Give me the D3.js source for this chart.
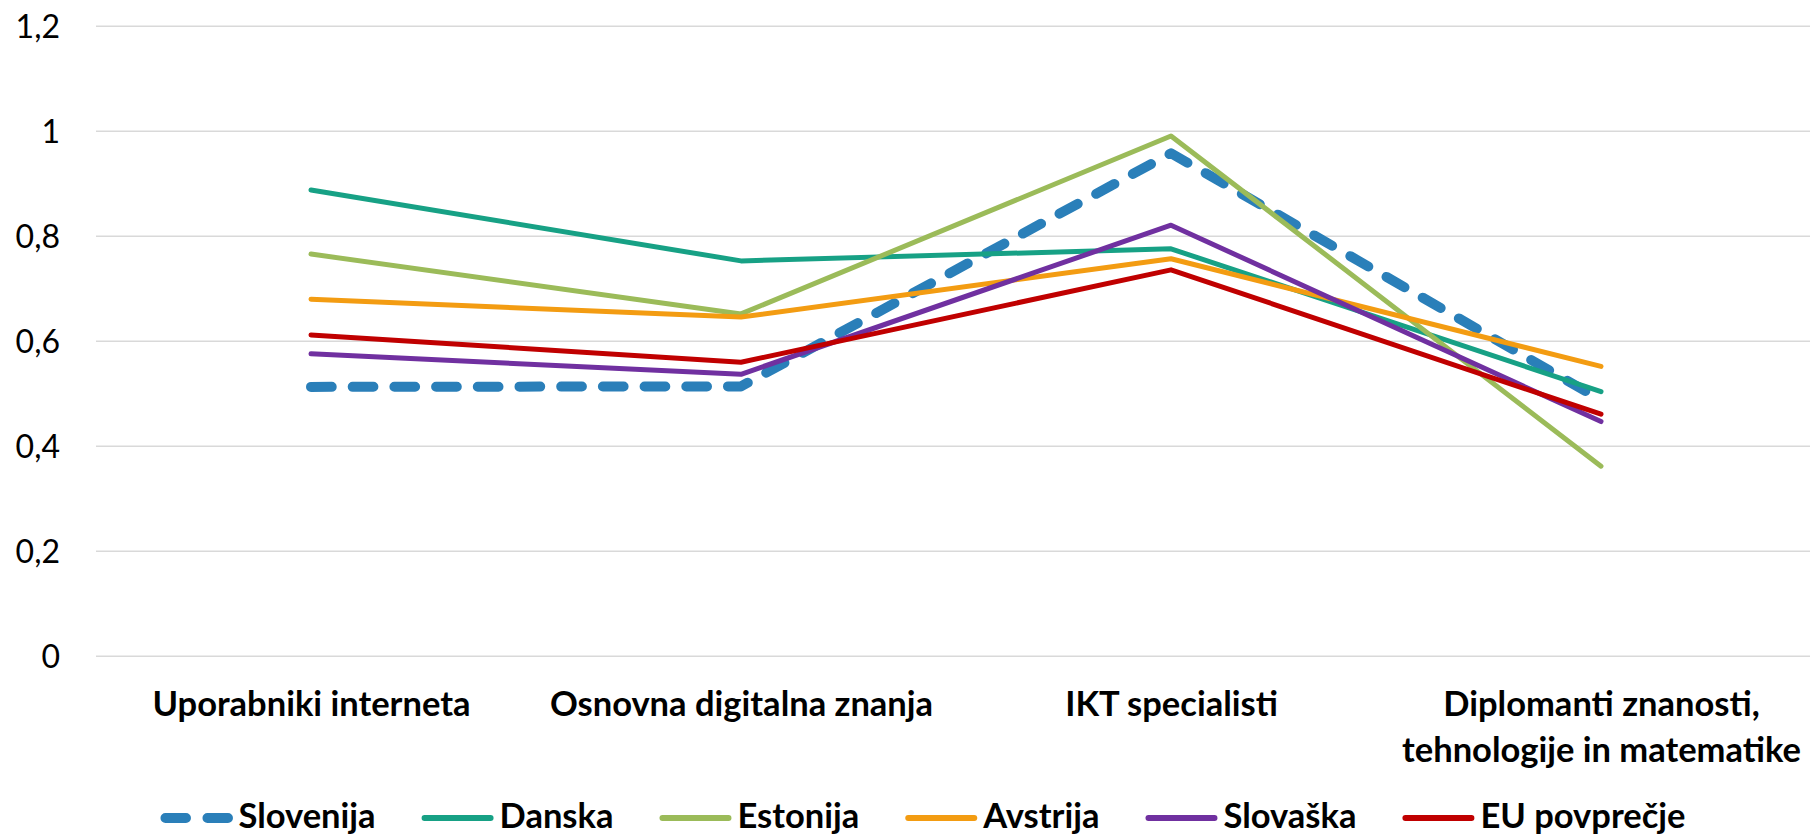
<!DOCTYPE html>
<html>
<head>
<meta charset="utf-8">
<script src="https://cdn.jsdelivr.net/npm/d3@7"></script>
<style>
  body { margin: 0; background: #fff; }
  svg { display: block; }
  svg text { font-family: Lato, "Open Sans", sans-serif; }
</style>
</head>
<body>
<svg id="chart" width="1810" height="836"></svg>
<script>
// categories (x axis), \n marks a line break in the label
var categories = ["Uporabniki interneta", "Osnovna digitalna znanja", "IKT specialisti", "Diplomanti znanosti,\ntehnologije in matematike"];

// series values
var slovenija   = [0.512, 0.513, 0.957, 0.487];
var danska      = [0.887, 0.752, 0.775, 0.503];
var estonija    = [0.765, 0.651, 0.990, 0.361];
var avstrija    = [0.679, 0.645, 0.756, 0.551];
var slovaska    = [0.575, 0.536, 0.820, 0.446];
var euPovprecje = [0.611, 0.559, 0.735, 0.460];

var seriesNames = ["Slovenija", "Danska", "Estonija", "Avstrija", "Slovaška", "EU povprečje"];

// y axis ticks
var tickValues = [0, 0.2, 0.4, 0.6, 0.8, 1, 1.2];
var tickLabels = ["0", "0,2", "0,4", "0,6", "0,8", "1", "1,2"];

var series = [
  { name: seriesNames[0], values: slovenija,   color: "#2a7fb9", width: 10, dash: "20.7,21" },
  { name: seriesNames[1], values: danska,      color: "#17a185", width: 5,  dash: null },
  { name: seriesNames[2], values: estonija,    color: "#9bbb59", width: 5,  dash: null },
  { name: seriesNames[3], values: avstrija,    color: "#f39c12", width: 5,  dash: null },
  { name: seriesNames[4], values: slovaska,    color: "#7030a0", width: 5,  dash: null },
  { name: seriesNames[5], values: euPovprecje, color: "#c00000", width: 5,  dash: null }
];

var svg = d3.select('#chart');
var plotLeft = 96, plotRight = 1816, plotTop = 25.7, plotBottom = 655.7;
var labelSize = 34.5;

var x = d3.scalePoint()
  .domain(categories)
  .range([plotLeft, plotRight])
  .padding(0.5);

var y = d3.scaleLinear()
  .domain([0, 1.2])
  .range([plotBottom, plotTop]);

// gridlines + y labels
var yAxis = svg.append('g')
  .attr('transform', 'translate(' + plotLeft + ',0)')
  .call(d3.axisLeft(y)
    .tickValues(tickValues)
    .tickSize(-(1810 - plotLeft))
    .tickPadding(36)
    .tickFormat(function(d, i) { return tickLabels[i]; }));
yAxis.attr('font-family', null);
yAxis.select('.domain').remove();
yAxis.selectAll('.tick line').attr('stroke', '#d9d9d9').attr('stroke-width', 1.5);
yAxis.selectAll('.tick text')
  .attr('font-size', 32)
  .attr('fill', '#000')
  .attr('dy', '0.36em');

// x labels
var xAxis = svg.append('g')
  .attr('transform', 'translate(0,' + plotBottom + ')')
  .call(d3.axisBottom(x).tickSize(0).tickFormat(''));
xAxis.attr('font-family', null);
xAxis.select('.domain').remove();
xAxis.selectAll('.tick').each(function(d) {
  var lines = d.split('\n');
  var t = d3.select(this).select('text')
    .attr('y', 0)
    .attr('dy', null)
    .attr('font-size', labelSize)
    .attr('font-weight', 'bold')
    .attr('fill', '#000');
  lines.forEach(function(s, i) {
    t.append('tspan').attr('x', 0).attr('y', 60 + i * 46).text(s);
  });
});

// lines
var line = d3.line()
  .x(function(d, i) { return x(categories[i]); })
  .y(function(d) { return y(d); });

svg.append('g').selectAll('path')
  .data(series)
  .enter()
  .append('path')
  .attr('d', function(s) { return line(s.values); })
  .attr('fill', 'none')
  .attr('stroke', function(s) { return s.color; })
  .attr('stroke-width', function(s) { return s.width; })
  .attr('stroke-dasharray', function(s) { return s.dash; })
  .attr('stroke-linecap', 'round')
  .attr('stroke-linejoin', 'round');

// legend
var legend = svg.append('g');
var lx = 0, sampleLen = 72, legendY = 818;
series.forEach(function(s) {
  var g = legend.append('g').attr('transform', 'translate(' + lx + ',0)');
  if (s.dash) {
    g.append('line')
      .attr('x1', 5).attr('x2', sampleLen - 3)
      .attr('y1', legendY).attr('y2', legendY)
      .attr('stroke', s.color).attr('stroke-width', 10)
      .attr('stroke-linecap', 'round')
      .attr('stroke-dasharray', '20.5,21.5');
  } else {
    g.append('line')
      .attr('x1', 3).attr('x2', sampleLen - 3)
      .attr('y1', legendY).attr('y2', legendY)
      .attr('stroke', s.color).attr('stroke-width', 6)
      .attr('stroke-linecap', 'round');
  }
  var t = g.append('text')
    .attr('x', sampleLen + 6)
    .attr('y', legendY + 10)
    .attr('font-size', labelSize)
    .attr('font-weight', 'bold')
    .attr('fill', '#000')
    .text(s.name);
  lx += sampleLen + 6 + t.node().getComputedTextLength() + 46;
});
var legendW = lx - 46;
legend.attr('transform', 'translate(' + (923 - legendW / 2) + ',0)');
</script>
</body>
</html>
